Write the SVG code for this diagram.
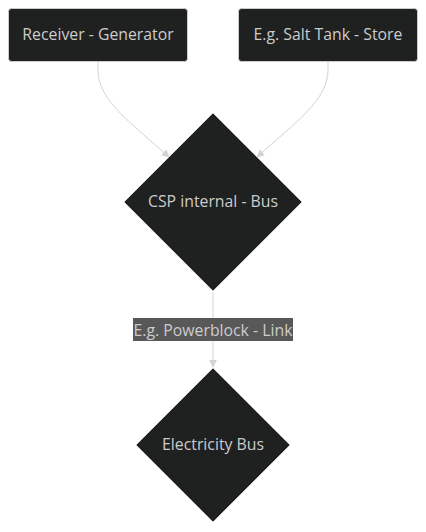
<svg xmlns="http://www.w3.org/2000/svg" width="426" height="532" viewBox="0 0 426 532">
<style>
.node rect,.node polygon{fill:#1f2020;stroke:#cccccc;stroke-width:1}
.lbl{font-family:"Open Sans","DejaVu Sans",sans-serif;font-size:15.8px;fill:#cccccc;text-anchor:middle;dominant-baseline:central}
.edge{fill:none;stroke:#d3d3d3;stroke-width:1}
</style>
<defs>
<marker id="arr" viewBox="0 0 10 10" refX="9" refY="5" markerWidth="8" markerHeight="8" markerUnits="userSpaceOnUse" orient="auto">
<path d="M0,0 L10,5 L0,10 z" fill="#d3d3d3"/>
</marker>
</defs>
<rect width="426" height="532" fill="#ffffff"/>
<g id="edges">
<path class="edge" d="M98,62 L98,70 C98,100 130,122 169,157" marker-end="url(#arr)"/>
<path class="edge" d="M328,62 L328,70 C328,100 296,122 257,157" marker-end="url(#arr)"/>
<path class="edge" d="M213,292 L213,367" marker-end="url(#arr)"/>
<rect x="133" y="318" width="160" height="23" fill="#585858"/>
<text class="lbl" x="213" y="329.5">E.g. Powerblock - Link</text>
</g>
<g id="receiver" class="node">
<rect x="8.5" y="8.5" width="179" height="53" rx="3"/>
<text class="lbl" x="98" y="34">Receiver - Generator</text>
</g>
<g id="store" class="node">
<rect x="238.5" y="8.5" width="179" height="53" rx="3"/>
<text class="lbl" x="328" y="34">E.g. Salt Tank - Store</text>
</g>
<g id="cspbus" class="node">
<polygon points="213,113 302,202 213,291 124,202"/>
<text class="lbl" x="213" y="201">CSP internal - Bus</text>
</g>
<g id="elecbus" class="node">
<polygon points="213,368 290,445 213,522 136,445"/>
<text class="lbl" x="213" y="444">Electricity Bus</text>
</g>
</svg>
